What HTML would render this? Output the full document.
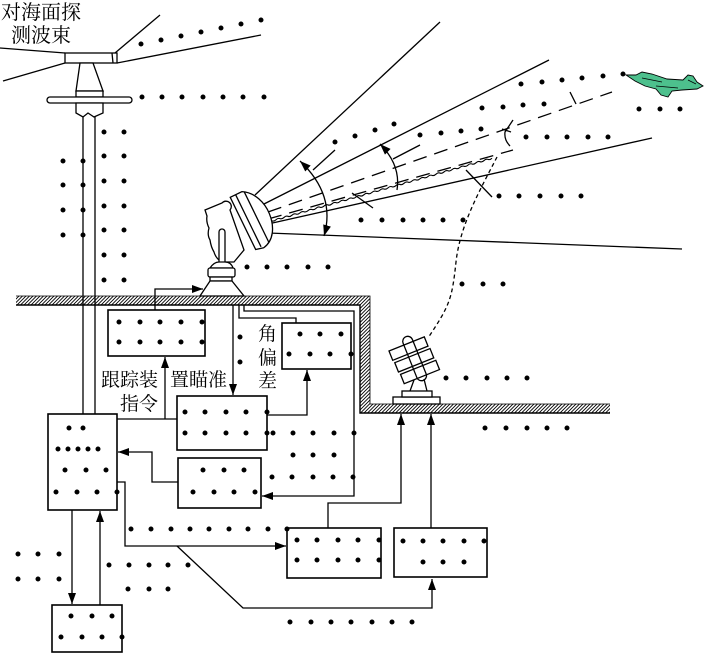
<!DOCTYPE html>
<html><head><meta charset="utf-8"><style>
html,body{margin:0;padding:0;background:#fff;}
svg{display:block;}
text{font-family:"Liberation Serif","Noto Serif CJK SC",serif;fill:#000;}
</style></head><body>
<svg width="705" height="653" viewBox="0 0 705 653" xmlns="http://www.w3.org/2000/svg">
<defs>
<pattern id="h" patternUnits="userSpaceOnUse" width="3.5" height="3.5">
<path d="M0,3.5 L3.5,0 M-1,1 L1,-1 M2.5,4.5 L4.5,2.5" stroke="#000" stroke-width="0.9"/>
</pattern>
<marker id="a" markerUnits="userSpaceOnUse" markerWidth="12" markerHeight="8" refX="11" refY="4" orient="auto-start-reverse"><path d="M0,0 L11,4 L0,8 Z" fill="#000"/></marker>
</defs>

<text x="1" y="19" font-size="20">对海面探</text>
<text x="11" y="42" font-size="20">测波束</text>

<g stroke="#000" stroke-width="1.3" fill="none">
<line x1="0" y1="48" x2="65" y2="53"/>
<line x1="3" y1="81" x2="65" y2="63"/>
<line x1="115" y1="53" x2="160" y2="15"/>
<line x1="117" y1="63" x2="261" y2="35"/>

<line x1="255" y1="195" x2="440" y2="22"/>
<line x1="262" y1="205" x2="549" y2="60"/>
<line x1="268" y1="212" x2="612" y2="92" stroke-dasharray="14,8"/>
<line x1="268" y1="219" x2="513" y2="150" stroke-dasharray="14,8"/>
<path d="M268,222 q2,-1.9 4,-1.138 t4,-1.138 t4,-1.138 t4,-1.138 t4,-1.138 t4,-1.138 t4,-1.138 t4,-1.138 t4,-1.138 t4,-1.138 t4,-1.138 t4,-1.138 t4,-1.138 t4,-1.138 t4,-1.138 t4,-1.138 t4,-1.138 t4,-1.138 t4,-1.138 t4,-1.138 t4,-1.138 t4,-1.138 t4,-1.138 t4,-1.138 t4,-1.138 t4,-1.138 t4,-1.138 t4,-1.138 t4,-1.138 t4,-1.138 t4,-1.138 t4,-1.138 t4,-1.138 t4,-1.138 t4,-1.138 t4,-1.138 t4,-1.138 t4,-1.138 t4,-1.138 t4,-1.138 t4,-1.138 t4,-1.138 t4,-1.138 t4,-1.138 t4,-1.138 t4,-1.138 t4,-1.138 t4,-1.138 t4,-1.138 t4,-1.138 t4,-1.138 t4,-1.138 t4,-1.138 t4,-1.138 t4,-1.138 t4,-1.138" stroke-width="1.1"/>
<line x1="268" y1="224" x2="652" y2="138"/>
<line x1="268" y1="233" x2="682" y2="249"/>
<line x1="393" y1="159" x2="420" y2="145"/>
<line x1="313" y1="170" x2="335" y2="150"/>
<line x1="352" y1="193" x2="373" y2="208"/>
<line x1="466" y1="170" x2="492" y2="197"/>
<path d="M300,161 Q336,195 324,236" marker-start="url(#a)" marker-end="url(#a)"/>
<path d="M380,144 Q401,165 397,190" marker-start="url(#a)"/>
<path d="M570,92 L576,104"/>
<path d="M513,120 L505,132 Q504,140 510,146 M502,129 L511,132"/>
<path d="M497,157 C480,190 460,225 456,262 S450,305 428,338" stroke-dasharray="4,3"/>
</g>

<!-- jet -->
<path d="M626,75 L636,75 L642,72 L652,74 L667,79 L683,80 L688,75 L693,76 L697,82 L703,86 L697,89 L682,90 L672,91 L668,97 L661,95 L656,89 L645,86 L635,81 Z" fill="#4dc08d" stroke="#000" stroke-width="0.9"/>
<path d="M642,78 L662,82 M656,86 L678,88 M688,80 L696,84" stroke="#000" stroke-width="0.7" fill="none"/>

<g stroke="#000" stroke-width="1.3" fill="#fff">
<rect x="65" y="53" width="52" height="10"/>
<line x1="112" y1="53" x2="113" y2="63"/>
<path d="M80,63 L76,91 H103 L93,63 Z"/>
<rect x="76" y="91" width="27" height="6"/>
<rect x="47" y="97" width="85" height="6" rx="3"/>
<path d="M76,103 V113 L83,117 L88,113 L94,117 L103,113 V103 Z"/>
</g>

<path d="M16,296H370V404H610V413H360V305H16Z" fill="url(#h)"/>
<path d="M16,305H360V413H610" stroke="#000" stroke-width="1.4" fill="none"/>
<path d="M16,296H370V404H610" stroke="#000" stroke-width="0.8" fill="none"/>

<g stroke="#000" stroke-width="1.3" fill="#fff">
<path d="M205,210 L222,203 A5,5 0 0 1 230,210 L244,250 L234,262 L222,262 Q216,259 214,252 Q211,247 210,240 Q207,235 209,228 Q206,222 207,216 Z"/>
<g transform="translate(242.5,222.5) rotate(-26)">
<path d="M0,-28 L13,-28 C24,-22 29,-8 28,4 C27,18 20,30 8,32 L0,30 Z"/>
<line x1="6" y1="-28" x2="6" y2="30"/>
<line x1="15" y1="-27" x2="15" y2="29"/>
</g>
<rect x="219" y="229" width="6" height="40" rx="3"/>
<path d="M210,268 Q214,262 219,262 H225 Q231,262 233,268 Z"/>
<rect x="208" y="268" width="27" height="9" rx="2"/>
<rect x="210" y="277" width="22" height="4"/>
<path d="M210,281 L200,296 H244 L232,281 Z"/>
</g>

<g stroke="#000" stroke-width="1.3" fill="#fff">
<path d="M410,391 L414,380 M427,391 L424,379" fill="none"/>
<rect x="393" y="397" width="47" height="7"/>
<rect x="402" y="391" width="30" height="6"/>
<g transform="translate(389,351) rotate(-21.8)">
<rect x="0" y="0" width="38" height="10"/>
<rect x="1" y="13" width="38" height="10"/>
<rect x="2" y="26" width="38" height="10"/>
<rect x="16" y="-7" width="10" height="47" rx="5" fill="none"/>
</g>
</g>

<g stroke="#000" stroke-width="1.6" fill="#fff">
<rect x="108" y="310" width="97" height="46"/>
<rect x="282" y="323" width="69" height="46"/>
<rect x="177" y="396" width="90" height="54"/>
<rect x="178" y="458" width="83" height="50"/>
<rect x="48" y="414" width="69" height="96"/>
<rect x="52" y="605" width="70" height="47"/>
<rect x="287" y="528" width="94" height="50"/>
<rect x="394" y="528" width="93" height="49"/>
</g>

<g stroke="#000" stroke-width="1.3" fill="none">
<line x1="83" y1="117" x2="83" y2="414"/>
<line x1="95" y1="117" x2="95" y2="414"/>
<line x1="117" y1="419" x2="177" y2="419"/>
<path d="M165,419 V357" marker-end="url(#a)"/>
<path d="M155,310 V289 H203" marker-end="url(#a)"/>
<path d="M233,305 V395" marker-end="url(#a)"/>
<path d="M239,305 V318 H296 V323"/>
<path d="M244,305 V311 H354 V496 H262" marker-end="url(#a)"/>
<path d="M267,415 H307 V370" marker-end="url(#a)"/>
<path d="M178,482 H152 V452 H118" marker-end="url(#a)"/>
<path d="M72,510 V604" marker-end="url(#a)"/>
<path d="M100,605 V511" marker-end="url(#a)"/>
<path d="M117,482 H125 V546 H286" marker-end="url(#a)"/>
<path d="M177,546 L243,608 H432 V579" marker-end="url(#a)"/>
<path d="M328,528 V503 H401 V414" marker-end="url(#a)"/>
<path d="M431,528 V414" marker-end="url(#a)"/>
</g>

<text x="101" y="386" font-size="19">跟踪装</text>
<text x="120" y="410" font-size="19">指令</text>
<text x="170" y="386" font-size="19">置瞄准</text>
<text x="258" y="340" font-size="19">角</text>
<text x="258" y="364" font-size="19">偏</text>
<text x="258" y="387" font-size="19">差</text>

<path stroke="#000" stroke-width="5" stroke-linecap="round" fill="none" d="
M141,44h0M161,40h0M181,36h0M201,32h0M221,28h0M241,24h0M261,20h0
M142,97h0M162,97h0M182,97h0M203,97h0M223,97h0M243,97h0M264,97h0
M63,161h0M63,185h0M63,210h0M63,235h0M83,161h0M83,185h0M83,210h0M83,235h0
M104,132h0M104,156h0M104,181h0M104,206h0M104,230h0M104,255h0M104,280h0
M124,132h0M124,156h0M124,181h0M124,206h0M124,230h0M124,255h0M124,280h0
M335,142h0M355,136h0M375,130h0M394,124h0
M420,135h0M441,133h0M461,131h0M481,129h0
M482,108h0M503,107h0M523,105h0M544,104h0
M521,84h0M542,82h0M562,80h0M582,78h0M603,76h0M623,74h0
M526,137h0M547,137h0M567,137h0M588,137h0M608,137h0
M639,109h0M660,109h0M680,109h0
M499,196h0M519,196h0M540,196h0M561,196h0M581,196h0
M361,220h0M382,220h0M403,220h0M423,220h0M443,220h0M463,220h0
M247,267h0M267,267h0M287,267h0M308,267h0M328,267h0
M462,284h0M483,284h0M503,284h0
M446,378h0M466,378h0M487,378h0M507,378h0M527,378h0
M485,428h0M506,428h0M527,428h0M547,428h0M567,428h0
M240,337h0M240,362h0
M119,322h0M140,322h0M160,322h0M181,322h0M202,322h0M119,342h0M140,342h0M160,342h0M181,342h0M202,342h0
M300,334h0M320,334h0M341,334h0M289,354h0M310,354h0M330,354h0M351,354h0
M185,412h0M205,412h0M226,412h0M246,412h0M267,412h0M185,433h0M205,433h0M226,433h0M246,433h0M267,433h0
M273,433h0M293,433h0M313,433h0M334,433h0M354,433h0
M293,455h0M313,455h0M334,455h0
M272,477h0M292,477h0M313,477h0M333,477h0M353,477h0
M203,470h0M224,470h0M244,470h0M193,492h0M214,492h0M234,492h0M255,492h0
M69,428h0M83,428h0
M58,449h0M68,449h0M78,449h0M88,449h0M98,449h0
M65,470h0M86,470h0M106,470h0
M56,492h0M77,492h0M97,492h0M117,492h0
M131,529h0M151,529h0M171,529h0M190,529h0M209,529h0M229,529h0M248,529h0M268,529h0M287,529h0
M297,540h0M317,540h0M338,540h0M358,540h0M379,540h0M297,560h0M317,560h0M338,560h0M358,560h0M379,560h0
M403,541h0M423,541h0M443,541h0M464,541h0M484,541h0M423,562h0M443,562h0M464,562h0
M18,554h0M38,554h0M59,554h0M18,579h0M38,579h0M59,579h0
M109,565h0M129,565h0M149,565h0M168,565h0M188,565h0
M128,589h0M149,589h0M168,589h0
M290,622h0M311,622h0M331,622h0M351,622h0M372,622h0M392,622h0M412,622h0
M71,616h0M92,616h0M112,616h0M61,637h0M82,637h0M102,637h0M122,637h0"/>
</svg>
</body></html>
